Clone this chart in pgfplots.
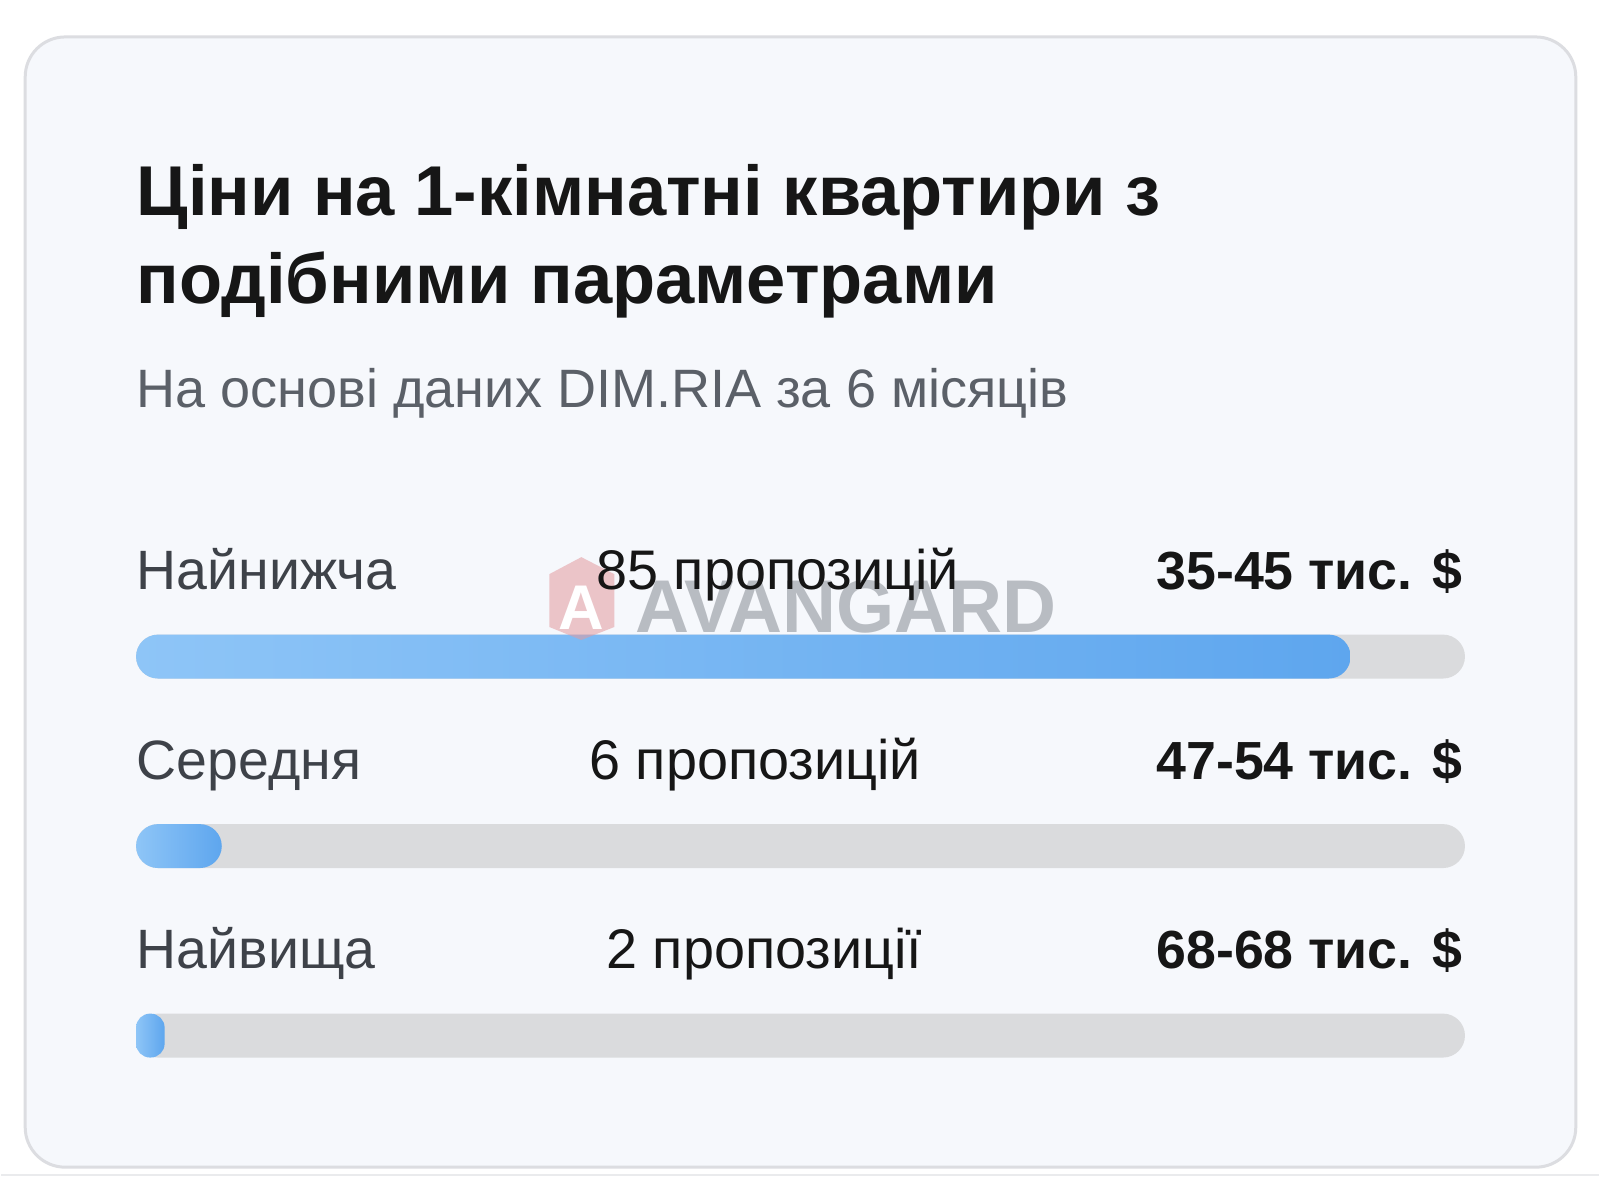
\documentclass[border=0pt]{standalone}
\usepackage{fontspec}
\setmainfont{Liberation Sans}
\usepackage{pgfplots}
\pgfplotsset{compat=1.18}
\definecolor{cardbg}{HTML}{F6F8FC}
\definecolor{cardborder}{HTML}{DCDDE1}
\definecolor{track}{HTML}{DADBDD}
\definecolor{barL}{HTML}{8EC5F7}
\definecolor{barR}{HTML}{5EA6EE}
\definecolor{subgray}{HTML}{5B6068}
\definecolor{labgray}{HTML}{3E4249}
\definecolor{txt}{HTML}{161616}
\definecolor{wmgray}{HTML}{AEB2B8}
\definecolor{wmred}{HTML}{E39A9F}
\begin{document}
\begin{tikzpicture}[x=0.1mm,y=-0.1mm]
\fill[white] (0,0) rectangle (1600,1200);
\draw[cardborder, line width=0.3mm, fill=cardbg, rounded corners=4mm] (24,37) rectangle (1577,1169);
\draw[cardborder!60, line width=0.25mm] (0,1177) -- (1600,1177);
\begin{axis}[at={(0,-120mm)}, anchor=south west, width=160mm, height=120mm, scale only axis, hide axis,
  xmin=-9.4328, xmax=102.362, ymin=0, ymax=1200, y dir=reverse, clip=false,
  xbar, bar width=4.4mm, bar shift=0pt]
\addplot[draw=none, fill=track, rounded corners=2.2mm] coordinates {(93,657.6) (93,847.4) (93,1037.2)};
\addplot[draw=none, left color=barL, right color=barR, rounded corners=2.2mm] coordinates {(85,657.6)};
\addplot[draw=none, left color=barL, right color=barR, rounded corners=2.2mm] coordinates {(6,847.4)};
\addplot[draw=none, left color=barL, right color=barR, rounded corners=1.4mm] coordinates {(2,1037.2)};
\end{axis}
% watermark
\fill[wmred, opacity=0.55] (549,575) -- (581,558) -- (614,575) -- (614,628) -- (581,641) -- (549,628) -- cycle;
\node[anchor=base, inner sep=0, text=white, font=\bfseries\fontsize{18pt}{18pt}\selectfont] at (581,630) {A};
\node[anchor=base west, inner sep=0, text=wmgray, opacity=0.85, font=\bfseries\fontsize{21.3pt}{21.3pt}\selectfont] at (635,633) {AVANGARD};
% title
\node[anchor=base west, inner sep=0, text=txt, font=\bfseries\fontsize{20.1pt}{20.1pt}\selectfont] at (135,216) {Ціни на 1-кімнатні квартири з};
\node[anchor=base west, inner sep=0, text=txt, font=\bfseries\fontsize{20.1pt}{20.1pt}\selectfont] at (135,304) {подібними параметрами};
\node[anchor=base west, inner sep=0, text=subgray, font=\fontsize{15.4pt}{15.4pt}\selectfont] at (135,408) {На основі даних DIM.RIA за 6 місяців};
% rows
\foreach \lab/\cnt/\cx/\val/\yy in {Найнижча/85 пропозицій/777.6/35-45 тис. \$/590, Середня/6 пропозицій/755.1/47-54 тис. \$/780.6, Найвища/2 пропозиції/764.3/68-68 тис. \$/970.4}{
  \node[anchor=base west, inner sep=0, text=labgray, font=\fontsize{15.8pt}{15.8pt}\selectfont] at (135,\yy) {\lab};
  \node[anchor=base, inner sep=0, text=txt, font=\fontsize{15.9pt}{15.9pt}\selectfont] at (\cx,\yy) {\cnt};
  \node[anchor=base east, inner sep=0, text=txt, font=\bfseries\fontsize{15.3pt}{15.3pt}\selectfont] at (1464.3,\yy) {\val};
}
\end{tikzpicture}
\end{document}
